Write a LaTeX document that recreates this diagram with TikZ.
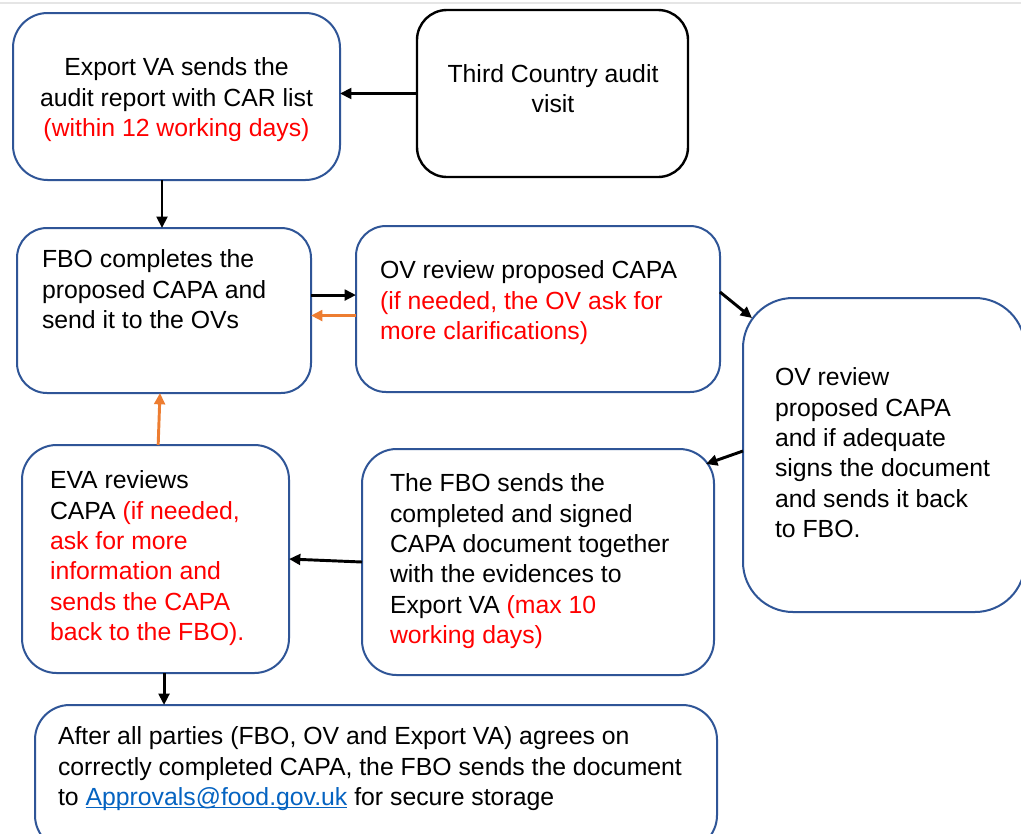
\documentclass[tikz,border=0pt]{standalone}
\usepackage{fontspec}
\setmainfont{Liberation Sans}
\usetikzlibrary{arrows.meta}
\definecolor{boxblue}{RGB}{47,85,151}
\definecolor{arrorange}{RGB}{237,125,49}
\definecolor{linkblue}{RGB}{5,99,193}
\newcommand\topstrut{\rule{0pt}{14pt}}
\newcommand\linkul[1]{\setbox0\hbox{#1}\rlap{\rule[-2pt]{\wd0}{0.9pt}}\box0}
\begin{document}
\begin{tikzpicture}[x=0.75pt,y=-0.75pt,
  box/.style={draw=boxblue,line width=1.5pt,rounded corners=26pt,inner sep=0pt,outer sep=0pt},
  blackbox/.style={draw=black,line width=1.8pt,rounded corners=22.5pt,inner sep=0pt,outer sep=0pt},
  txt/.style={inner sep=0pt,outer sep=0pt,font=\fontsize{18.6pt}{22.7pt}\selectfont},
  ltxt/.style={txt,align=left,anchor=north west},
  ctxt/.style={txt,align=center,anchor=north},
  arr/.style={line width=2.2pt,-{Triangle[length=8.5pt,width=8pt]}},
  oarr/.style={arr,draw=arrorange,color=arrorange}]
\useasboundingbox (0,0) rectangle (1021,833);
\clip (0,0) rectangle (1021,833);
\fill[white] (0,0) rectangle (1021,833);
\draw[black!10,line width=1.5pt] (0,3) -- (1021,3);

% boxes
\node[box,minimum width=245.25pt,minimum height=125.25pt] (b1) at (176.5,96.5) {};
\node[blackbox,minimum width=203.25pt,minimum height=125.25pt] (b2) at (552.5,93.5) {};
\node[box,rounded corners=22.5pt,minimum width=220.5pt,minimum height=123.75pt] (b3) at (164,310.5) {};
\node[box,rounded corners=22.5pt,minimum width=273pt,minimum height=124.5pt] (b4) at (538,309) {};
\node[box,rounded corners=37.5pt,minimum width=211.5pt,minimum height=235.5pt] (b5) at (884,455) {};
\node[box,minimum width=200.25pt,minimum height=171pt] (b6) at (155.5,559) {};
\node[box,minimum width=264pt,minimum height=169.5pt] (b7) at (538,562) {};
\node[box,minimum width=511.5pt,minimum height=108.75pt] (b8) at (376,777.5) {};

% texts
\node[ctxt] (t1) at (176.5,57.3) {\topstrut Export VA sends the\\audit report with CAR list\\\textcolor{red}{(within 12 working days)}};
\node[ctxt] (t2) at (553,63.8) {\topstrut Third Country audit\\visit};
\node[ltxt] (t3) at (42,249.3) {\topstrut FBO completes the\\proposed CAPA and\\send it to the OVs};
\node[ltxt] (t4) at (380,260.3) {\topstrut OV review proposed CAPA\\\textcolor{red}{(if needed, the OV ask for}\\\textcolor{red}{more clarifications)}};
\node[ltxt] (t5) at (775,367.3) {\topstrut OV review\\proposed CAPA\\and if adequate\\signs the document\\and sends it back\\to FBO.};
\node[ltxt] (t6) at (50,470.3) {\topstrut EVA reviews\\CAPA \textcolor{red}{(if needed,}\\\textcolor{red}{ask for more}\\\textcolor{red}{information and}\\\textcolor{red}{sends the CAPA}\\\textcolor{red}{back to the FBO).}};
\node[ltxt] (t7) at (390,473.3) {\topstrut The FBO sends the\\completed and signed\\CAPA document together\\with the evidences to\\Export VA \textcolor{red}{(max 10}\\\textcolor{red}{working days)}};
\node[ltxt] (t8) at (58,726.3) {\topstrut After all parties (FBO, OV and Export VA) agrees on\\correctly completed CAPA, the FBO sends the document\\to \textcolor{linkblue}{\linkul{Approvals@food.gov.uk}} for secure storage};

% connectors
\draw[arr] (b2.west) -- (b2.west -| b1.east);
\draw[arr] ([xshift=-1.5pt]b1.south -| b3.north) -- ([xshift=-1.5pt]b3.north);
\draw[arr] ([yshift=11.6pt]b3.east) -- ([yshift=11.6pt]b3.east -| b4.west);
\draw[oarr] ([yshift=-4.9pt]b4.west) -- ([yshift=-4.9pt]b4.west -| b3.east);
\draw[arr] ([yshift=12.75pt]b4.east) -- ([xshift=6.75pt,yshift=-15pt]b5.north west);
\draw[arr] ([yshift=3pt]b5.west) -- ([xshift=-6pt,yshift=-11.25pt]b7.north east);
\draw[arr] (b7.west) -- (b6.east);
\draw[oarr] ([xshift=2pt]b6.north) -- ([xshift=-3pt]b3.south);
\draw[arr] ([xshift=6.4pt]b6.south) -- ([xshift=6.4pt]b6.south |- b8.north);
\end{tikzpicture}
\end{document}
